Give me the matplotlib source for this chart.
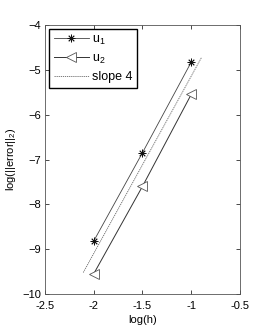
import numpy as np
import matplotlib
matplotlib.use("Agg")
import matplotlib.pyplot as plt

plt.rcParams['font.family'] = ['Liberation Sans', 'DejaVu Sans']
plt.rcParams['mathtext.fontset'] = 'custom'
plt.rcParams['mathtext.rm'] = 'Liberation Sans'

log_h = [-2.0, -1.5, -1.0]
u1_err = [-8.82, -6.85, -4.83]
u2_err = [-9.55, -7.60, -5.55]
slope_x = [-2.107, -0.893]
slope_y = [-9.52, -4.72]

fig = plt.figure(figsize=(2.66, 3.33), dpi=100)
ax = fig.add_axes([0.169, 0.117, 0.733, 0.808])

ax.plot(log_h, u1_err, color='#444444', lw=0.6, marker=(8, 2, 0), ms=5.5,
        mec='#111111', mew=0.6, label='u$_1$')
ax.plot(log_h, u2_err, color='#333333', lw=0.7, marker='<', ms=6.5,
        mfc='white', mec='#555555', mew=0.6, label='u$_2$')
ax.plot(slope_x, slope_y, color='#666666', lw=0.6, ls=(0, (1.5, 1)),
        label='slope 4')

ax.set_xlim(-2.5, -0.5)
ax.set_ylim(-10, -4)
ax.set_xticks([-2.5, -2, -1.5, -1, -0.5])
ax.set_xticklabels(['-2.5', '-2', '-1.5', '-1', '-0.5'])
ax.set_yticks(range(-10, -3))
ax.tick_params(direction='in', top=True, right=True, length=3, width=0.5,
               labelsize=8)
ax.tick_params(axis='x', pad=5)
ax.tick_params(axis='y', pad=3)
for s in ax.spines.values():
    s.set_linewidth(0.6)
    s.set_color('#555555')

ax.set_xlabel('log(h)', fontsize=8, labelpad=3)
ax.set_ylabel('log(||error||$_2$)', fontsize=8, labelpad=3)

leg = ax.legend(loc='upper left', fontsize=9, fancybox=False, framealpha=1,
                edgecolor='black', borderaxespad=0.35, handlelength=2.8,
                handletextpad=0.3, labelspacing=0.45, borderpad=0.35)
leg.get_frame().set_linewidth(1.0)

fig.savefig('out.png', dpi=100)
